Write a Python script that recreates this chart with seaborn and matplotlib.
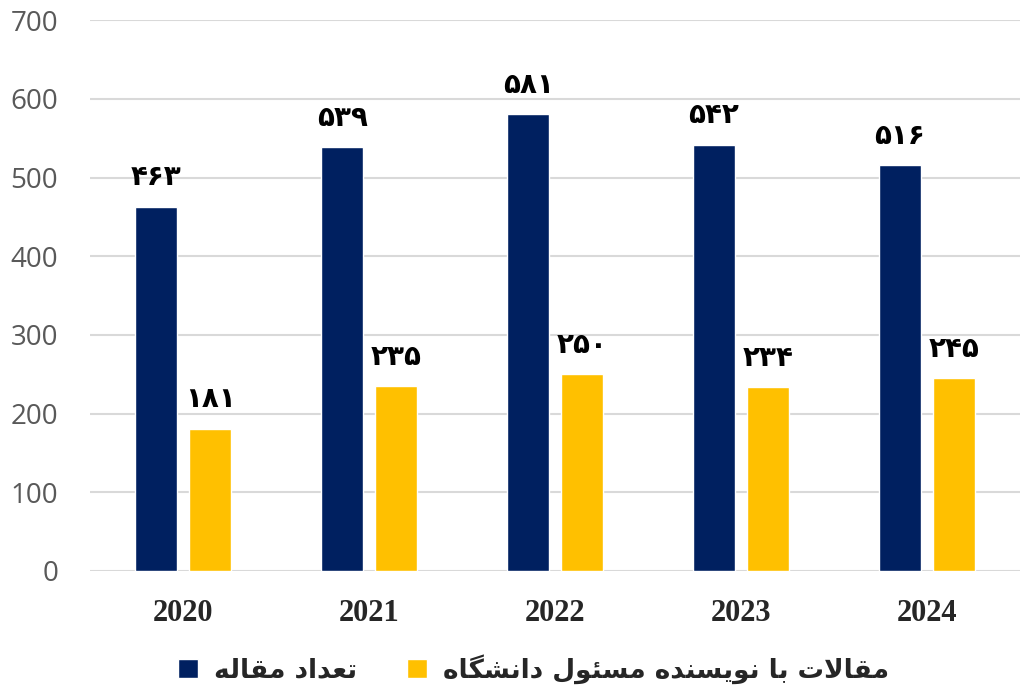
import pandas as pd
import matplotlib
matplotlib.use("Agg")
import matplotlib.pyplot as plt
import seaborn as sns

years = ["2020", "2021", "2022", "2023", "2024"]
total_articles = [463, 539, 581, 542, 516]
corresponding_articles = [181, 235, 250, 234, 245]
series_names = ["تعداد مقاله", "مقالات با نویسنده مسئول دانشگاه"]
y_ticks = [0, 100, 200, 300, 400, 500, 600, 700]
colors = ["#002060", "#FFC000"]

# presentation forms: (isolated, final, initial, medial); None = no left join
FORMS = {
    "ا": (0xFE8D, 0xFE8E, None, None),
    "ب": (0xFE8F, 0xFE90, 0xFE91, 0xFE92),
    "ت": (0xFE95, 0xFE96, 0xFE97, 0xFE98),
    "د": (0xFEA9, 0xFEAA, None, None),
    "س": (0xFEB1, 0xFEB2, 0xFEB3, 0xFEB4),
    "ش": (0xFEB5, 0xFEB6, 0xFEB7, 0xFEB8),
    "ع": (0xFEC9, 0xFECA, 0xFECB, 0xFECC),
    "ق": (0xFED5, 0xFED6, 0xFED7, 0xFED8),
    "ل": (0xFEDD, 0xFEDE, 0xFEDF, 0xFEE0),
    "م": (0xFEE1, 0xFEE2, 0xFEE3, 0xFEE4),
    "ن": (0xFEE5, 0xFEE6, 0xFEE7, 0xFEE8),
    "ه": (0xFEE9, 0xFEEA, 0xFEEB, 0xFEEC),
    "و": (0xFEED, 0xFEEE, None, None),
    "ئ": (0xFE89, 0xFE8A, 0xFE8B, 0xFE8C),
    "ی": (0xFBFC, 0xFBFD, 0xFBFE, 0xFBFF),
    "گ": (0xFB92, 0xFB93, 0xFB94, 0xFB95),
    "لا": (0xFEFB, 0xFEFC, None, None),
}


def shape(text):
    """Rough Persian shaping + reversal, since matplotlib has no bidi."""
    units = []
    i = 0
    while i < len(text):
        if text[i] == "ل" and i + 1 < len(text) and text[i + 1] == "ا":
            units.append("لا")
            i += 2
        else:
            units.append(text[i])
            i += 1
    out = []
    for k, u in enumerate(units):
        if u not in FORMS:
            out.append(u)
            continue
        f = FORMS[u]
        prev = units[k - 1] if k > 0 else None
        nxt = units[k + 1] if k + 1 < len(units) else None
        join_prev = prev in FORMS and FORMS[prev][2] is not None
        join_next = f[2] is not None and nxt in FORMS
        if join_prev and join_next:
            out.append(chr(f[3]))
        elif join_prev:
            out.append(chr(f[1]))
        elif join_next:
            out.append(chr(f[2]))
        else:
            out.append(chr(f[0]))
    return "".join(out[::-1])


def fa_digits(n):
    return "".join(chr(0x06F0 + int(c)) for c in str(n))


df = pd.DataFrame({
    "year": years * 2,
    "value": total_articles + corresponding_articles,
    "series": [series_names[0]] * len(years) + [series_names[1]] * len(years),
})

sns.set_style("white")
fig = plt.figure(figsize=(10.25, 6.98), dpi=100)
ax = fig.add_axes([0.088, 0.182, 0.907, 0.789])

sns.barplot(data=df, x="year", y="value", hue="series", palette=colors,
            width=0.58, gap=0.22, saturation=1, ax=ax, legend=True)

ax.set_ylim(0, 700)
ax.set_yticks(y_ticks)
ax.set_xlim(-0.5, len(years) - 0.5)
ax.yaxis.grid(True, color="#D9D9D9", linewidth=1.5)
ax.set_axisbelow(True)
for s in ax.spines.values():
    s.set_visible(False)
ax.set_xlabel("")
ax.set_ylabel("")
ax.tick_params(axis="y", labelsize=20, labelcolor="#595959", length=0, pad=23)
ax.tick_params(axis="x", length=0, pad=20)
for lbl in ax.get_yticklabels():
    lbl.set_family("Open Sans")
for lbl in ax.get_xticklabels():
    lbl.set_family("Liberation Serif")
    lbl.set_fontweight("bold")
    lbl.set_fontsize(22)

for cont in ax.containers:
    labels = [fa_digits(int(round(v))) for v in cont.datavalues]
    ax.bar_label(cont, labels=labels, padding=11, fontsize=20,
                 fontweight="bold", family="DejaVu Sans", color="black")

handles, _ = ax.get_legend_handles_labels()
leg = ax.legend(handles, [shape(n) for n in series_names],
                loc="center", bbox_to_anchor=(0.477, -0.178), ncol=2,
                frameon=False, handlelength=0.75, handleheight=0.75,
                handletextpad=0.6, columnspacing=1.9,
                prop={"family": "DejaVu Sans", "weight": "bold", "size": 19})

fig.savefig("out.png", dpi=100)
